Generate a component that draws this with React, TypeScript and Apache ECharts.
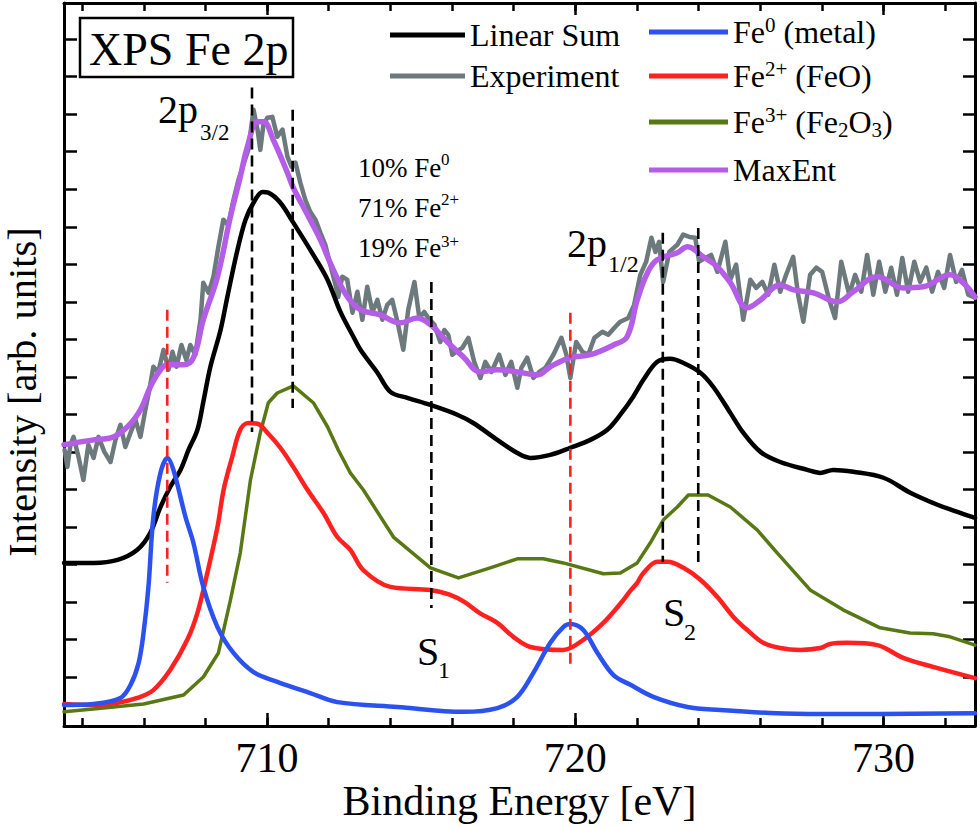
import React, { useEffect, useRef } from 'react';
import * as echarts from 'echarts';

// ---------- axis ranges & ticks ----------
const energyMin = 703.41;
const energyMax = 732.97;
const intensityMin = -0.307;
const intensityMax = 18.965;
const energyMajorTicks = [710, 720, 730];
const energyMinorTicks = [704, 706, 708, 710, 712, 714, 716, 718, 720, 722, 724, 726, 728, 730, 732];
const intensityTicks = [1, 2, 3, 4, 5, 6, 7, 8, 9, 10, 11, 12, 13, 14, 15, 16, 17, 18];

// ---------- series: [binding energy (eV), intensity (arb. units)] ----------
const experiment = [[703.43,7.05],[703.52,6.60],[703.62,7.19],[703.72,7.40],[703.88,6.87],[704.04,6.25],[704.20,7.19],[704.37,6.84],[704.53,7.40],[704.72,7.00],[704.92,6.73],[705.08,7.32],[705.24,7.72],[705.40,7.13],[705.57,7.51],[705.73,7.85],[705.89,7.40],[706.05,8.12],[706.21,8.79],[706.31,9.27],[706.47,9.13],[706.64,9.72],[706.80,9.19],[706.93,9.67],[707.06,9.27],[707.22,9.85],[707.38,9.45],[707.51,9.85],[707.67,9.59],[707.84,10.52],[707.93,11.51],[708.10,11.24],[708.26,11.67],[708.42,12.47],[708.58,13.19],[708.74,13.05],[708.91,13.72],[709.07,14.25],[709.23,14.65],[709.39,15.05],[709.56,16.12],[709.69,15.59],[709.78,15.05],[709.88,15.72],[710.01,15.91],[710.17,15.93],[710.33,15.40],[710.50,15.59],[710.66,14.87],[710.79,14.60],[710.92,14.71],[711.08,14.17],[711.24,13.72],[711.40,13.40],[711.57,13.19],[711.73,12.84],[711.89,12.52],[712.05,11.99],[712.22,11.45],[712.31,11.13],[712.44,11.67],[712.60,11.59],[712.77,10.71],[712.93,11.27],[713.09,10.52],[713.25,11.40],[713.42,10.73],[713.58,11.05],[713.74,10.52],[713.90,10.92],[714.06,11.05],[714.23,10.47],[714.42,9.72],[714.58,10.79],[714.78,11.53],[714.94,10.57],[715.10,10.73],[715.23,10.57],[715.43,10.39],[715.62,9.93],[715.75,10.25],[715.88,10.12],[716.01,9.59],[716.14,9.67],[716.33,9.77],[716.53,10.04],[716.72,9.40],[716.92,8.97],[717.08,9.40],[717.28,9.13],[717.53,9.59],[717.73,9.05],[717.92,9.40],[718.12,8.71],[718.25,9.24],[718.44,9.51],[718.64,8.97],[718.83,9.13],[719.03,9.24],[719.29,9.59],[719.55,10.04],[719.71,9.59],[719.84,8.97],[720.03,9.93],[720.23,9.67],[720.42,9.59],[720.62,10.04],[720.88,10.20],[721.07,10.12],[721.27,10.31],[721.46,10.47],[721.72,10.57],[721.91,10.92],[722.11,11.72],[722.30,12.07],[722.47,12.71],[722.60,12.33],[722.72,12.60],[722.85,11.53],[723.05,12.33],[723.31,12.52],[723.50,12.79],[723.70,12.73],[723.89,12.71],[724.02,12.07],[724.22,12.17],[724.41,12.25],[724.61,11.80],[724.87,12.60],[725.03,11.59],[725.22,11.99],[725.45,10.52],[725.68,11.59],[725.87,11.37],[726.07,11.53],[726.26,11.19],[726.46,11.99],[726.65,11.27],[726.84,11.72],[727.07,12.20],[727.23,11.19],[727.40,10.47],[727.62,11.72],[727.82,11.91],[728.01,11.80],[728.24,11.05],[728.43,10.57],[728.63,12.07],[728.89,11.19],[729.08,11.72],[729.28,11.27],[729.47,12.25],[729.67,11.19],[729.86,12.07],[730.06,11.27],[730.25,11.91],[730.44,11.19],[730.61,12.17],[730.80,11.27],[731.00,12.07],[731.19,11.53],[731.39,11.91],[731.58,11.27],[731.77,11.80],[731.97,11.37],[732.16,12.25],[732.36,11.53],[732.55,11.85],[732.75,11.19],[732.97,11.11]];

const maxEnt = [[703.41,7.19],[704.37,7.32],[704.92,7.37],[705.47,7.67],[705.89,8.12],[706.21,8.73],[706.54,9.19],[706.77,9.32],[707.29,9.32],[707.61,9.51],[707.93,10.52],[708.39,11.67],[708.81,13.27],[709.13,14.33],[709.36,15.13],[709.69,15.80],[709.88,15.80],[710.20,15.32],[710.66,14.44],[710.85,14.04],[711.31,13.32],[711.73,12.65],[712.15,11.85],[712.61,11.13],[713.03,10.79],[713.67,10.65],[714.32,10.44],[714.87,10.57],[715.30,10.39],[715.85,9.93],[716.37,9.53],[716.92,9.13],[717.47,9.19],[718.12,9.13],[718.77,9.05],[719.19,9.27],[719.84,9.51],[720.49,9.59],[721.24,9.85],[721.68,10.07],[722.01,11.05],[722.34,11.77],[722.66,12.12],[723.31,12.31],[723.64,12.47],[724.15,12.20],[724.61,11.93],[725.03,11.51],[725.58,10.84],[726.01,11.05],[726.65,11.45],[727.08,11.32],[727.73,11.24],[728.50,11.00],[729.02,11.27],[729.80,11.67],[730.64,11.37],[731.29,11.40],[732.16,11.72],[732.58,11.51],[732.97,11.13]];

const linearSum = [[703.41,4.04],[704.37,4.04],[705.15,4.12],[705.79,4.39],[706.21,4.84],[706.54,5.53],[706.86,6.07],[707.19,6.52],[707.45,7.05],[707.74,7.59],[707.93,8.33],[708.16,9.27],[708.49,10.25],[708.71,11.13],[709.04,12.39],[709.30,13.19],[709.56,13.64],[709.85,13.93],[710.04,13.91],[710.43,13.64],[710.85,13.11],[711.50,12.25],[711.96,11.59],[712.38,10.73],[712.80,10.07],[713.03,9.72],[713.58,9.11],[714.00,8.60],[714.55,8.44],[715.30,8.25],[716.17,7.99],[716.69,7.77],[717.47,7.32],[718.12,6.97],[718.54,6.84],[719.19,6.92],[719.84,7.11],[720.49,7.32],[721.04,7.59],[721.46,7.99],[721.88,8.47],[722.21,8.92],[722.66,9.40],[723.08,9.48],[723.51,9.37],[724.06,9.11],[724.48,8.73],[725.03,8.04],[725.45,7.51],[726.01,7.00],[726.65,6.73],[727.53,6.52],[727.95,6.44],[728.37,6.52],[729.02,6.47],[730.00,6.31],[730.87,5.91],[731.75,5.59],[732.40,5.40],[732.97,5.24]];

const fe0Metal = [[703.41,0.25],[704.37,0.28],[705.24,0.44],[705.57,0.79],[705.83,1.37],[705.99,2.17],[706.15,3.40],[706.31,5.27],[706.54,6.44],[706.77,6.84],[706.96,6.52],[707.35,5.27],[707.61,4.57],[707.93,3.40],[708.39,2.33],[708.91,1.64],[709.56,1.13],[710.33,0.87],[711.40,0.57],[712.28,0.33],[714.23,0.20],[716.37,0.07],[717.47,0.17],[718.12,0.47],[718.64,1.11],[719.19,1.91],[719.61,2.33],[719.84,2.41],[720.26,2.25],[720.72,1.64],[721.24,1.05],[721.79,0.79],[722.53,0.47],[723.64,0.20],[724.70,0.12],[726.33,0.04],[727.95,0.01],[732.97,0.03]];

const fe2FeO = [[703.41,0.28],[704.37,0.25],[705.15,0.31],[705.79,0.44],[706.31,0.65],[706.86,1.19],[707.41,1.99],[707.74,2.71],[708.06,3.77],[708.39,5.00],[708.59,5.99],[708.87,6.87],[709.13,7.59],[709.39,7.77],[709.69,7.75],[710.01,7.51],[710.43,7.11],[710.85,6.60],[711.31,5.99],[711.83,5.37],[712.28,4.73],[712.70,4.39],[713.12,3.85],[714.00,3.40],[715.30,3.32],[715.90,3.20],[716.40,3.00],[716.90,2.70],[717.47,2.44],[717.99,2.07],[718.54,1.80],[719.61,1.72],[720.26,1.99],[720.91,2.44],[721.46,2.95],[721.79,3.30],[722.01,3.51],[722.21,3.77],[722.66,4.07],[722.99,4.07],[723.51,3.91],[724.06,3.59],[724.61,3.13],[725.13,2.60],[725.58,2.25],[726.10,1.91],[726.65,1.77],[727.30,1.72],[727.95,1.77],[728.27,1.88],[728.82,1.91],[729.80,1.85],[730.64,1.51],[731.61,1.27],[732.97,0.97]];

const fe3Fe2O3 = [[703.41,0.07],[704.69,0.17],[705.99,0.28],[707.29,0.52],[707.93,1.00],[708.42,1.64],[708.81,3.05],[709.13,4.31],[709.46,6.25],[709.78,7.51],[710.04,8.31],[710.33,8.57],[710.85,8.76],[711.50,8.31],[711.96,7.67],[712.31,7.05],[712.70,6.44],[713.12,5.99],[714.10,4.73],[715.30,3.91],[716.21,3.64],[717.24,3.91],[718.12,4.15],[718.96,4.15],[719.61,4.04],[720.91,3.75],[721.46,3.77],[722.01,4.04],[722.43,4.57],[722.86,5.19],[723.31,5.53],[723.67,5.85],[724.31,5.85],[725.03,5.53],[725.90,4.92],[726.55,4.31],[727.62,3.32],[728.69,2.79],[729.89,2.31],[730.86,2.17],[731.61,2.15],[732.16,2.07],[732.97,1.85]];

// ---------- vertical dashed markers: [energy, top intensity, bottom intensity] ----------
const blackMarkers = [[709.51,16.71,7.53],[710.83,16.12,8.17],[715.33,11.53,2.84],[722.84,12.84,4.07],[723.99,12.97,3.93]];
const redMarkers = [[706.76,10.79,3.51],[719.84,10.71,1.32]];

// ---------- names, colours ----------
const seriesNames = ['Linear Sum', 'Experiment', 'Fe0 (metal)', 'Fe2+ (FeO)', 'Fe3+ (Fe2O3)', 'MaxEnt'];
const colors = {
  linear: '#000000',
  experiment: '#6c797d',
  fe0: '#2b52ee',
  fe2: '#ff2020',
  fe3: '#587814',
  maxEnt: '#b45de6',
};

const SERIF = 'Liberation Serif';

function buildOption() {
  const axisLine = { show: true, onZero: false, lineStyle: { color: '#000', width: 3 } };
  const tickStyle = { color: '#000', width: 2.5 };
  const xBase = { type: 'value', min: energyMin, max: energyMax, splitLine: { show: false } };
  const yBase = { type: 'value', min: intensityMin, max: intensityMax, splitLine: { show: false } };

  const richFmt = (name: string) => {
    if (name === 'Fe0 (metal)') return '{m|Fe}{sup|0}{m| (metal)}';
    if (name === 'Fe2+ (FeO)') return '{m|Fe}{sup|2+}{m| (FeO)}';
    if (name === 'Fe3+ (Fe2O3)') return '{m|Fe}{sup|3+}{m| (Fe}{sub|2}{m|O}{sub|3}{m|)}';
    return '{m|' + name + '}';
  };
  const legendText = {
    color: '#000',
    fontFamily: SERIF,
    fontSize: 32,
    rich: {
      m: { fontFamily: SERIF, fontSize: 32, lineHeight: 36, color: '#000' },
      sup: { fontFamily: SERIF, fontSize: 21, lineHeight: 18, verticalAlign: 'top', color: '#000' },
      sub: { fontFamily: SERIF, fontSize: 21, lineHeight: 6, verticalAlign: 'bottom', color: '#000' },
    },
  };
  const mkLegend = (name: string, left: number, cy: number, w: number) => ({
    data: [name],
    left,
    top: cy - 18,
    orient: 'vertical',
    padding: 0,
    itemWidth: w,
    itemHeight: 5,
    icon: 'rect',
    selectedMode: false,
    itemStyle: { borderWidth: 0 },
    formatter: richFmt,
    textStyle: legendText,
  });

  const lineSeries = (name: string, data: number[][], color: string, width: number, smooth: number | boolean) => ({
    name,
    type: 'line',
    data,
    color,
    showSymbol: false,
    symbol: 'none',
    smooth,
    silent: true,
    lineStyle: { color, width, cap: 'round', join: 'round' },
  });

  const markerSeries = (m: number[], color: string) => ({
    type: 'line',
    data: [[m[0], m[1]], [m[0], m[2]]],
    showSymbol: false,
    symbol: 'none',
    silent: true,
    lineStyle: { color, width: 2.6, type: [11, 6] },
  });

  const txt = (text: string, x: number, y: number, size: number, extra: any = {}) => ({
    type: 'text',
    x,
    y,
    silent: true,
    rotation: extra.rotation || 0,
    style: {
      text,
      fontSize: size,
      fontFamily: SERIF,
      fill: '#000',
      align: extra.align || 'left',
      verticalAlign: 'middle',
    },
  });

  return {
    animation: false,
    backgroundColor: '#ffffff',
    textStyle: { fontFamily: SERIF },
    grid: { left: 64, top: 3, width: 911, height: 723, containLabel: false, outerBoundsMode: 'none' },
    xAxis: [
      {
        ...xBase,
        position: 'bottom',
        axisLine,
        axisTick: { show: true, inside: true, length: 13, lineStyle: tickStyle, customValues: energyMajorTicks },
        axisLabel: { show: true, customValues: energyMajorTicks, margin: 11, color: '#000', fontSize: 42, fontFamily: SERIF },
        name: 'Binding Energy [eV]',
        nameLocation: 'middle',
        nameGap: 54,
        nameMoveOverlap: false,
        nameTextStyle: { color: '#000', fontSize: 42, fontFamily: SERIF },
      },
      {
        ...xBase,
        position: 'bottom',
        axisLine: { show: false, onZero: false },
        axisTick: { show: true, inside: true, length: 8, lineStyle: tickStyle, customValues: energyMinorTicks },
        axisLabel: { show: false },
      },
      {
        ...xBase,
        position: 'top',
        axisLine,
        axisTick: { show: true, inside: true, length: 12, lineStyle: tickStyle, customValues: energyMajorTicks },
        axisLabel: { show: false },
      },
      {
        ...xBase,
        position: 'top',
        axisLine: { show: false, onZero: false },
        axisTick: { show: true, inside: true, length: 8, lineStyle: tickStyle, customValues: energyMinorTicks },
        axisLabel: { show: false },
      },
    ],
    yAxis: [
      {
        ...yBase,
        position: 'left',
        axisLine,
        axisTick: { show: true, inside: true, length: 13, lineStyle: tickStyle, customValues: intensityTicks },
        axisLabel: { show: false },
      },
      {
        ...yBase,
        position: 'right',
        axisLine,
        axisTick: { show: true, inside: true, length: 12, lineStyle: tickStyle, customValues: intensityTicks },
        axisLabel: { show: false },
      },
    ],
    legend: [
      mkLegend(seriesNames[0], 390, 37, 75),
      mkLegend(seriesNames[1], 390, 78, 75),
      mkLegend(seriesNames[2], 649, 32, 79),
      mkLegend(seriesNames[3], 649, 76, 79),
      mkLegend(seriesNames[4], 649, 122, 79),
      mkLegend(seriesNames[5], 649, 172, 79),
    ],
    series: [
      lineSeries(seriesNames[1], experiment, colors.experiment, 4.5, false),
      lineSeries(seriesNames[5], maxEnt, colors.maxEnt, 5.5, 0.4),
      lineSeries(seriesNames[0], linearSum, colors.linear, 4.5, 0.35),
      lineSeries(seriesNames[4], fe3Fe2O3, colors.fe3, 3.5, false),
      lineSeries(seriesNames[3], fe2FeO, colors.fe2, 4.5, 0.35),
      lineSeries(seriesNames[2], fe0Metal, colors.fe0, 4.5, 0.35),
      ...blackMarkers.map((m) => markerSeries(m, '#000')),
      ...redMarkers.map((m) => markerSeries(m, '#ff2020')),
    ],
    graphic: [
      { type: 'rect', silent: true, shape: { x: 80, y: 18, width: 213, height: 59 }, style: { fill: '#fff', stroke: '#000', lineWidth: 2.5 } },
      txt('XPS Fe 2p', 89, 49.5, 46),
      txt('Intensity [arb. units]', 22, 392, 40.5, { rotation: Math.PI / 2, align: 'center' }),
      txt('2p', 158, 109.5, 40),
      txt('3/2', 200, 132, 23),
      txt('2p', 567, 243.5, 40),
      txt('1/2', 608, 264, 24),
      txt('10% Fe', 358, 168, 27),
      txt('0', 441, 159, 17),
      txt('71% Fe', 358, 208, 27),
      txt('2+', 441, 199, 17),
      txt('19% Fe', 358, 248, 27),
      txt('3+', 441, 241, 17),
      txt('S', 417, 651.5, 40),
      txt('1', 438, 670, 24),
      txt('S', 663, 612.5, 40),
      txt('2', 684, 632, 24),
    ],
  };
}

export default function App() {
  const ref = useRef<HTMLDivElement>(null);
  useEffect(() => {
    if (!ref.current) return;
    const chart = echarts.init(ref.current, null, { renderer: 'svg' });
    chart.setOption(buildOption() as any);
    return () => {
      chart.dispose();
    };
  }, []);
  return (
    <div
      ref={ref}
      style={{ position: 'fixed', left: 0, top: 0, width: 980, height: 828, background: '#fff' }}
    />
  );
}
